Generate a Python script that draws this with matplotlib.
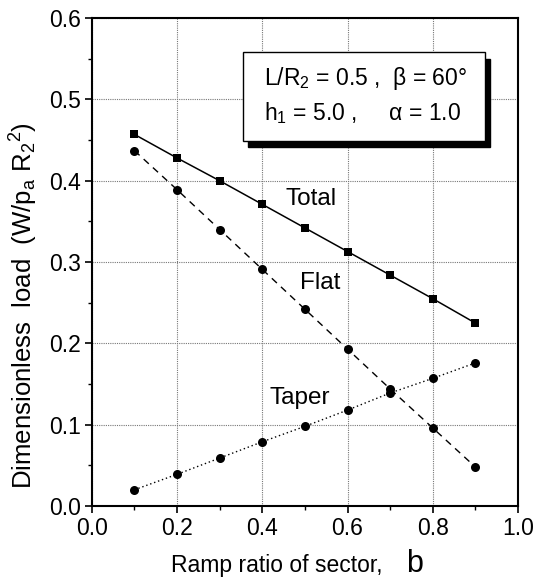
import matplotlib.pyplot as plt
from matplotlib.patches import Rectangle
from matplotlib.ticker import MultipleLocator

plt.rcParams['font.family'] = ['Liberation Sans', 'DejaVu Sans']
plt.rcParams['mathtext.fontset'] = 'custom'
plt.rcParams['mathtext.rm'] = 'Liberation Sans'
plt.rcParams['mathtext.it'] = 'Liberation Sans'

# ============================================================
# Data
# ============================================================

ramp_ratio = [0.1, 0.2, 0.3, 0.4, 0.5, 0.6, 0.7, 0.8, 0.9]
total_load = [0.457, 0.428, 0.400, 0.371, 0.342, 0.313, 0.284, 0.255, 0.225]
flat_load = [0.437, 0.389, 0.340, 0.291, 0.242, 0.193, 0.144, 0.096, 0.048]
taper_load = [0.020, 0.039, 0.059, 0.079, 0.098, 0.118, 0.139, 0.157, 0.176]

x_ticks = [0.0, 0.2, 0.4, 0.6, 0.8, 1.0]
y_ticks = [0.0, 0.1, 0.2, 0.3, 0.4, 0.5, 0.6]

# ============================================================
# Plot
# ============================================================

fig = plt.figure(figsize=(5.34, 5.85), dpi=100)
ax = fig.add_axes([0.172, 0.135, 0.798, 0.834])

ax.plot(ramp_ratio, total_load, color="black", lw=1.1, marker="s", ms=6,
        markeredgewidth=0)
ax.plot(ramp_ratio, flat_load, color="black", lw=1.0, ls=(0, (5, 4)),
        marker="o", ms=6.5, markeredgewidth=0)
ax.plot(ramp_ratio, taper_load, color="black", lw=1.0, ls=(0, (1, 2)),
        marker="o", ms=6.5, markeredgewidth=0)

ax.set_xlim(0.0, 1.0)
ax.set_ylim(0.0, 0.6)
ax.set_xticks(x_ticks)
ax.set_yticks(y_ticks)
ax.xaxis.set_minor_locator(MultipleLocator(0.1))
ax.yaxis.set_minor_locator(MultipleLocator(0.05))
ax.xaxis.set_major_formatter(plt.FormatStrFormatter("%.1f"))
ax.yaxis.set_major_formatter(plt.FormatStrFormatter("%.1f"))
ax.tick_params(which="major", direction="out", length=5, width=1.2,
               labelsize=16.5, colors="black", pad=3)
ax.tick_params(which="minor", direction="out", length=3, width=1.0)

ax.grid(True, which="major", color="#777777", ls=(0, (1, 1)), lw=0.8)
ax.set_axisbelow(True)
for s in ax.spines.values():
    s.set_linewidth(1.5)

# x label: text plus a larger "b"
ax.text(0.681, -0.135, "Ramp ratio of sector,", transform=ax.transAxes,
        ha="right", va="baseline", fontsize=16.5)
ax.text(0.758, -0.135, "b", transform=ax.transAxes, ha="center",
        va="baseline", fontsize=22)
ax.set_ylabel(r"Dimensionless  load  (W/p$_\mathregular{a}$ R$_\mathregular{2}$$^\mathregular{2}$)",
              fontsize=18.5)
ax.yaxis.set_label_coords(-0.122, 0.41)

# Curve labels
ax.text(0.514, 0.378, "Total", fontsize=17.5, ha="center", va="center")
ax.text(0.535, 0.274, "Flat", fontsize=17.5, ha="center", va="center")
ax.text(0.488, 0.133, "Taper", fontsize=17.5, ha="center", va="center")

# Parameter box with shadow
bx, by, bw, bh = 0.354, 0.449, 0.568, 0.109
ax.add_patch(Rectangle((bx + 0.013, by - 0.008), bw, bh, facecolor="black",
                       edgecolor="black", zorder=4))
ax.add_patch(Rectangle((bx, by), bw, bh, facecolor="white",
                       edgecolor="black", lw=1.0, zorder=5))
ax.text(bx + 0.05, 0.526, r"L/R$_\mathregular{2}$ = 0.5 ,  $\beta$ = 60°",
        fontsize=16.5, ha="left", va="center", zorder=6)
ax.text(bx + 0.05, 0.483, r"h$_\mathregular{1}$ = 5.0 ,     $\alpha$ = 1.0",
        fontsize=16.5, ha="left", va="center", zorder=6)

fig.savefig("out.png", dpi=100)
